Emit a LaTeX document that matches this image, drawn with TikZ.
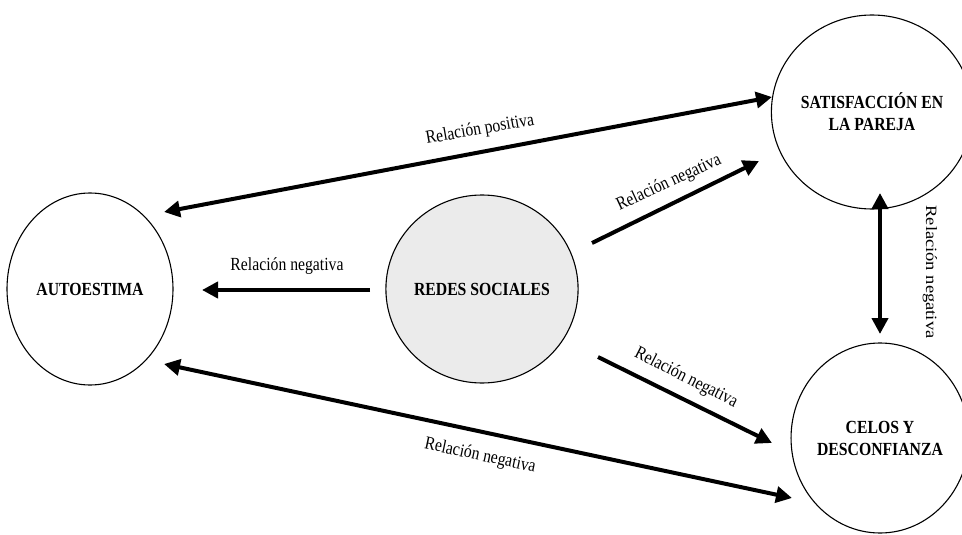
\documentclass[tikz,border=0pt]{standalone}
\usepackage{fontspec}
\setmainfont[FakeStretch=0.85]{Liberation Serif}
\newfontfamily\plainserif{Liberation Serif}
\usetikzlibrary{arrows.meta,shapes.geometric}
\tikzset{
  oval/.style={draw=black, line width=1.1pt, ellipse, inner sep=0pt, align=center,
    font=\fontsize{18.5}{22}\selectfont\bfseries},
  rel/.style={line width=4pt, -{Triangle[length=16pt,width=16pt]}},
  birel/.style={line width=4pt, {Triangle[length=16pt,width=16pt]}-{Triangle[length=16pt,width=16pt]}},
  lab/.style={font=\fontsize{18.5}{21}\selectfont, inner sep=0pt}
}
\begin{document}
\begin{tikzpicture}[x=1pt,y=-1pt]
\useasboundingbox (0,0) rectangle (962,535);
% nodes
\node[oval, minimum width=166pt, minimum height=192pt] (auto) at (90,289) {AUTOESTIMA};
\node[oval, fill=black!8, minimum width=160pt, minimum height=188pt] (redes) at (482,289) {REDES SOCIALES};
\node[oval, minimum width=148pt, minimum height=194pt] (sat) at (872,112) {SATISFACCIÓN EN\\LA PAREJA};
\node[oval, minimum width=152pt, minimum height=190pt] (celos) at (880,438) {CELOS Y\\DESCONFIANZA};
% endpoints
\coordinate (p1) at (164,212);
\coordinate (p2) at (772,97);
\coordinate (u1) at (592,243);
\coordinate (u2) at (759,161);
\coordinate (l1) at (370,290);
\coordinate (l2) at (202,290);
\coordinate (v1) at (880,193);
\coordinate (v2) at (880,334);
\coordinate (d1) at (598,357);
\coordinate (d2) at (772,443);
\coordinate (b1) at (164,364);
\coordinate (b2) at (792,498);
% connectors
\draw[birel] (p1) -- (p2);
\draw[rel] (u1) -- (u2);
\draw[rel] (l1) -- (l2);
\draw[birel] (v1) -- (v2);
\draw[rel] (d1) -- (d2);
\draw[birel] (b1) -- (b2);
% labels
\node[lab, rotate=10] (lp) at (480,130) {Relación positiva};
\node[lab, rotate=25] (lu) at (669,183) {Relación negativa};
\node[lab] (ll) at (287,266) {Relación negativa};
\node[lab, rotate=-90] (lv) at (930,272) {\scalebox{1}[0.85]{\plainserif Relación negativa}};
\node[lab, rotate=-27] (ld) at (686,378) {Relación negativa};
\node[lab, rotate=-12] (lb) at (480,456) {Relación negativa};
\end{tikzpicture}
\end{document}
